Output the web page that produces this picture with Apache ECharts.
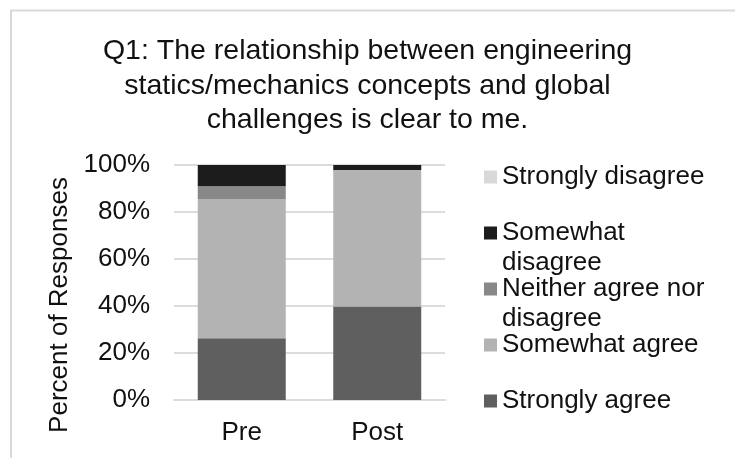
<!DOCTYPE html>
<html>
<head>
<meta charset="utf-8">
<script src="https://cdn.jsdelivr.net/npm/echarts@6/dist/echarts.min.js"></script>
<style>
  html, body { margin: 0; padding: 0; background: #fff; }
  #main { width: 735px; height: 458px; }
</style>
</head>
<body>
<div id="main"></div>
<script>
// data (percent)
var categories = ['Pre', 'Post'];
var stronglyAgree = [26.3, 39.8];
var somewhatAgree = [59.2, 58.1];
var neitherAgree = [5.5, 0];
var somewhatDisagree = [9.0, 2.1];
var stronglyDisagree = [0, 0];
var yTicks = [0, 20, 40, 60, 80, 100];

var seriesNames = ['Strongly agree', 'Somewhat agree', 'Neither agree nor disagree', 'Somewhat disagree', 'Strongly disagree'];
var seriesData = [stronglyAgree, somewhatAgree, neitherAgree, somewhatDisagree, stronglyDisagree];
var seriesColors = ['#5f5f5f', '#b3b3b3', '#888888', '#1c1c1c', '#d9d9d9'];
// legend shown top to bottom, wrapped labels like the original
var legendOrder = ['Strongly disagree', 'Somewhat disagree', 'Neither agree nor disagree', 'Somewhat agree', 'Strongly agree'];
var legendLabels = {
  'Strongly disagree': 'Strongly disagree',
  'Somewhat disagree': '\nSomewhat\ndisagree',
  'Neither agree nor disagree': '\nNeither agree nor\ndisagree',
  'Somewhat agree': 'Somewhat agree',
  'Strongly agree': 'Strongly agree'
};
var legendTops = [162, 188, 244, 330, 386];

var font = 'Liberation Sans, Arial, sans-serif';
var myChart = echarts.init(document.getElementById('main'));

var series = [];
for (var i = 0; i < seriesNames.length; i++) {
  series.push({
    name: seriesNames[i],
    type: 'bar',
    stack: 'total',
    barWidth: 88,
    itemStyle: { color: seriesColors[i] },
    data: seriesData[i]
  });
}

var legends = [];
for (var k = 0; k < legendOrder.length; k++) {
  legends.push({
    data: [legendOrder[k]],
    left: 484,
    top: legendTops[k],
    padding: 0,
    icon: 'rect',
    itemWidth: 13,
    itemHeight: 13,
    formatter: function (name) { return legendLabels[name]; },
    textStyle: { fontFamily: font, fontSize: 26, lineHeight: 30, color: '#111' }
  });
}

var option = {
  animation: false,
  title: {
    text: 'Q1: The relationship between engineering\nstatics/mechanics concepts and global\nchallenges is clear to me.',
    left: 'center',
    top: 29,
    textStyle: { fontFamily: font, fontSize: 28.5, fontWeight: 'normal', lineHeight: 34.5, color: '#111' }
  },
  legend: legends,
  grid: { left: 174, right: 290, top: 165, bottom: 58 },
  xAxis: {
    type: 'category',
    data: categories,
    axisLine: { lineStyle: { color: '#dcdcdc', width: 2 } },
    axisTick: { show: false },
    axisLabel: { fontFamily: font, fontSize: 26, color: '#111', margin: 20 }
  },
  yAxis: {
    type: 'value',
    min: yTicks[0],
    max: yTicks[yTicks.length - 1],
    interval: 20,
    name: 'Percent of Responses',
    nameLocation: 'middle',
    nameRotate: 90,
    nameGap: 101,
    nameTextStyle: { fontFamily: font, fontSize: 26, color: '#111', padding: [0, 45, 0, 0] },
    axisLine: { show: false },
    axisTick: { show: false },
    splitLine: { lineStyle: { color: '#dcdcdc', width: 2 } },
    axisLabel: { fontFamily: font, fontSize: 26, color: '#111', margin: 24, formatter: '{value}%' }
  },
  graphic: [{
    type: 'rect',
    shape: { x: 11, y: 10.5, width: 800, height: 600 },
    style: { fill: 'none', stroke: '#d9d9d9', lineWidth: 2 },
    silent: true
  }],
  series: series
};

myChart.setOption(option);
</script>
</body>
</html>
